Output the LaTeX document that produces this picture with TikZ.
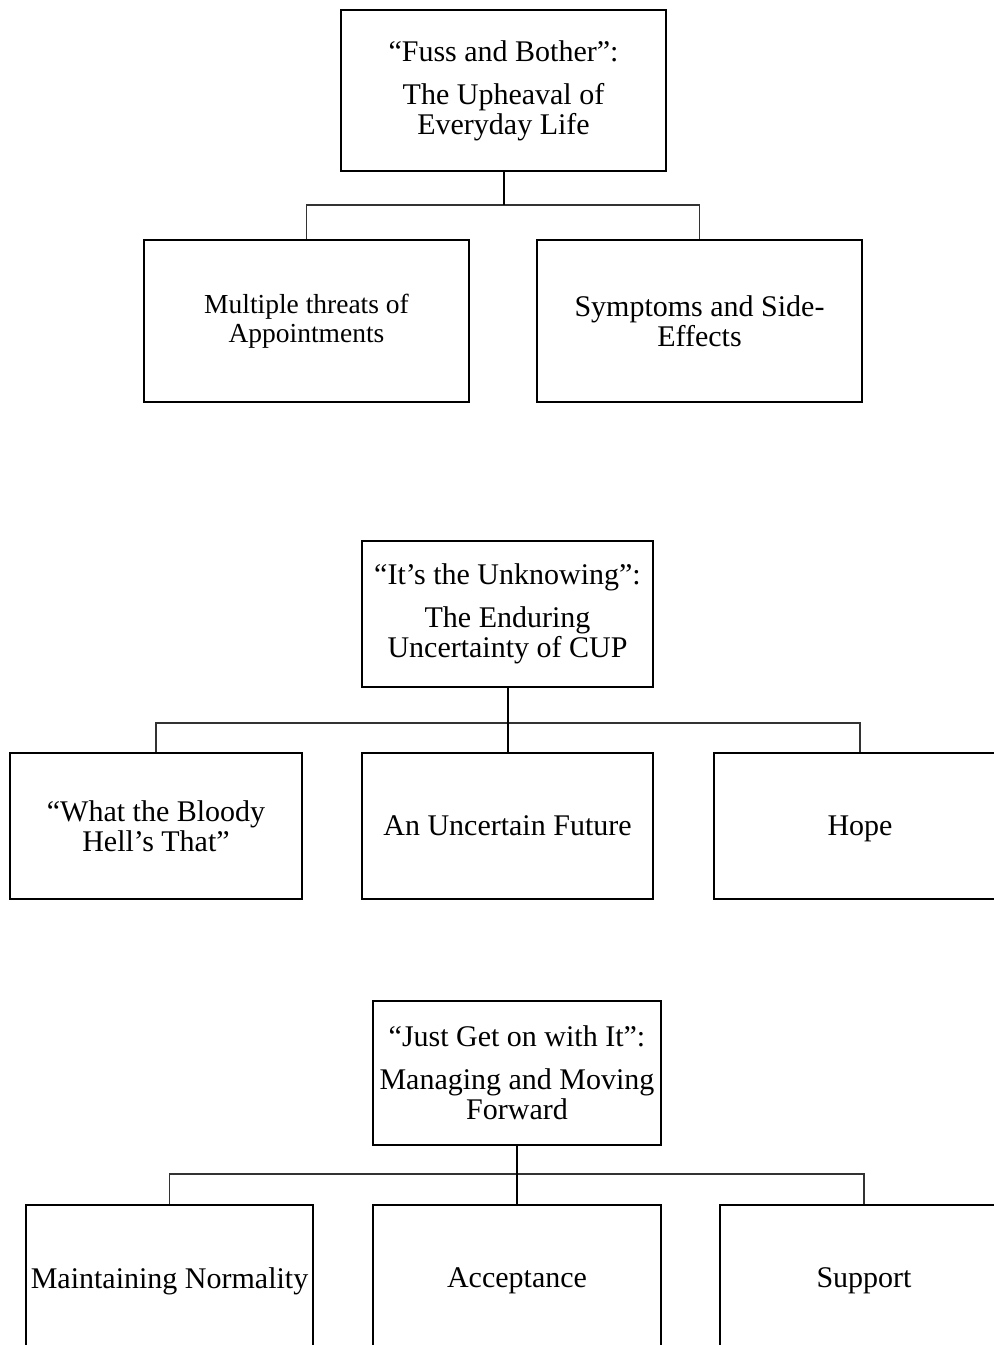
\documentclass[tikz,border=0pt]{standalone}
\usepackage{fontspec}
\setmainfont{Liberation Serif}
\begin{document}
\begin{tikzpicture}[x=1pt,y=-1pt,
  box/.style={draw=black, line width=2.9pt, rectangle, inner sep=0pt, align=center,
    font=\fontsize{30}{30}\selectfont},
  oneline/.style={text depth=0pt},
  smalltext/.style={font=\fontsize{27.5}{29.5}\selectfont},
  trunk/.style={line width=2pt, black},
  branch/.style={line width=1.2pt, black!80}]
\useasboundingbox (0,0) rectangle (994,1345);
\clip (0,0) rectangle (994,1345);

% ---- group 1 ----
\node[box, minimum width=325pt, minimum height=161pt] (A) at (503.5,90.5)
  {“Fuss and Bother”:\\[13pt]The Upheaval of\\Everyday Life};
\node[box, smalltext, minimum width=325pt, minimum height=162pt] (B1) at (306.5,321)
  {Multiple threats of\\Appointments};
\node[box, minimum width=325pt, minimum height=162pt] (B2) at (699.5,321)
  {Symptoms and Side-\\Effects};
\coordinate (j1) at (503.5,205);
\draw[branch] (B1.north) |- (j1) -| (B2.north);
\draw[trunk] (A.south) -- (j1);

% ---- group 2 ----
\node[box, minimum width=291pt, minimum height=146pt] (C) at (507.5,614)
  {“It’s the Unknowing”:\\[13pt]The Enduring\\Uncertainty of CUP};
\node[box, minimum width=292pt, minimum height=146pt] (D1) at (156,826)
  {“What the Bloody\\Hell’s That”};
\node[box, oneline, minimum width=291pt, minimum height=146pt] (D2) at (507.5,826)
  {An Uncertain Future};
\node[box, oneline, minimum width=292pt, minimum height=146pt] (D3) at (860,826)
  {Hope};
\coordinate (j2) at (507.5,723);
\draw[branch] (D1.north) |- (j2) -| (D3.north);
\draw[trunk] (C.south) -- (D2.north);

% ---- group 3 ----
\node[box, minimum width=288pt, minimum height=144pt] (E) at (517,1073)
  {“Just Get on with It”:\\[13pt]Managing and Moving\\Forward};
\node[box, oneline, minimum width=287pt, minimum height=146pt] (F1) at (169.5,1278)
  {Maintaining Normality};
\node[box, oneline, minimum width=288pt, minimum height=146pt] (F2) at (517,1278)
  {Acceptance};
\node[box, oneline, minimum width=288pt, minimum height=146pt] (F3) at (864,1278)
  {Support};
\coordinate (j3) at (517,1174);
\draw[branch] (F1.north) |- (j3) -| (F3.north);
\draw[trunk] (E.south) -- (F2.north);
\end{tikzpicture}
\end{document}
